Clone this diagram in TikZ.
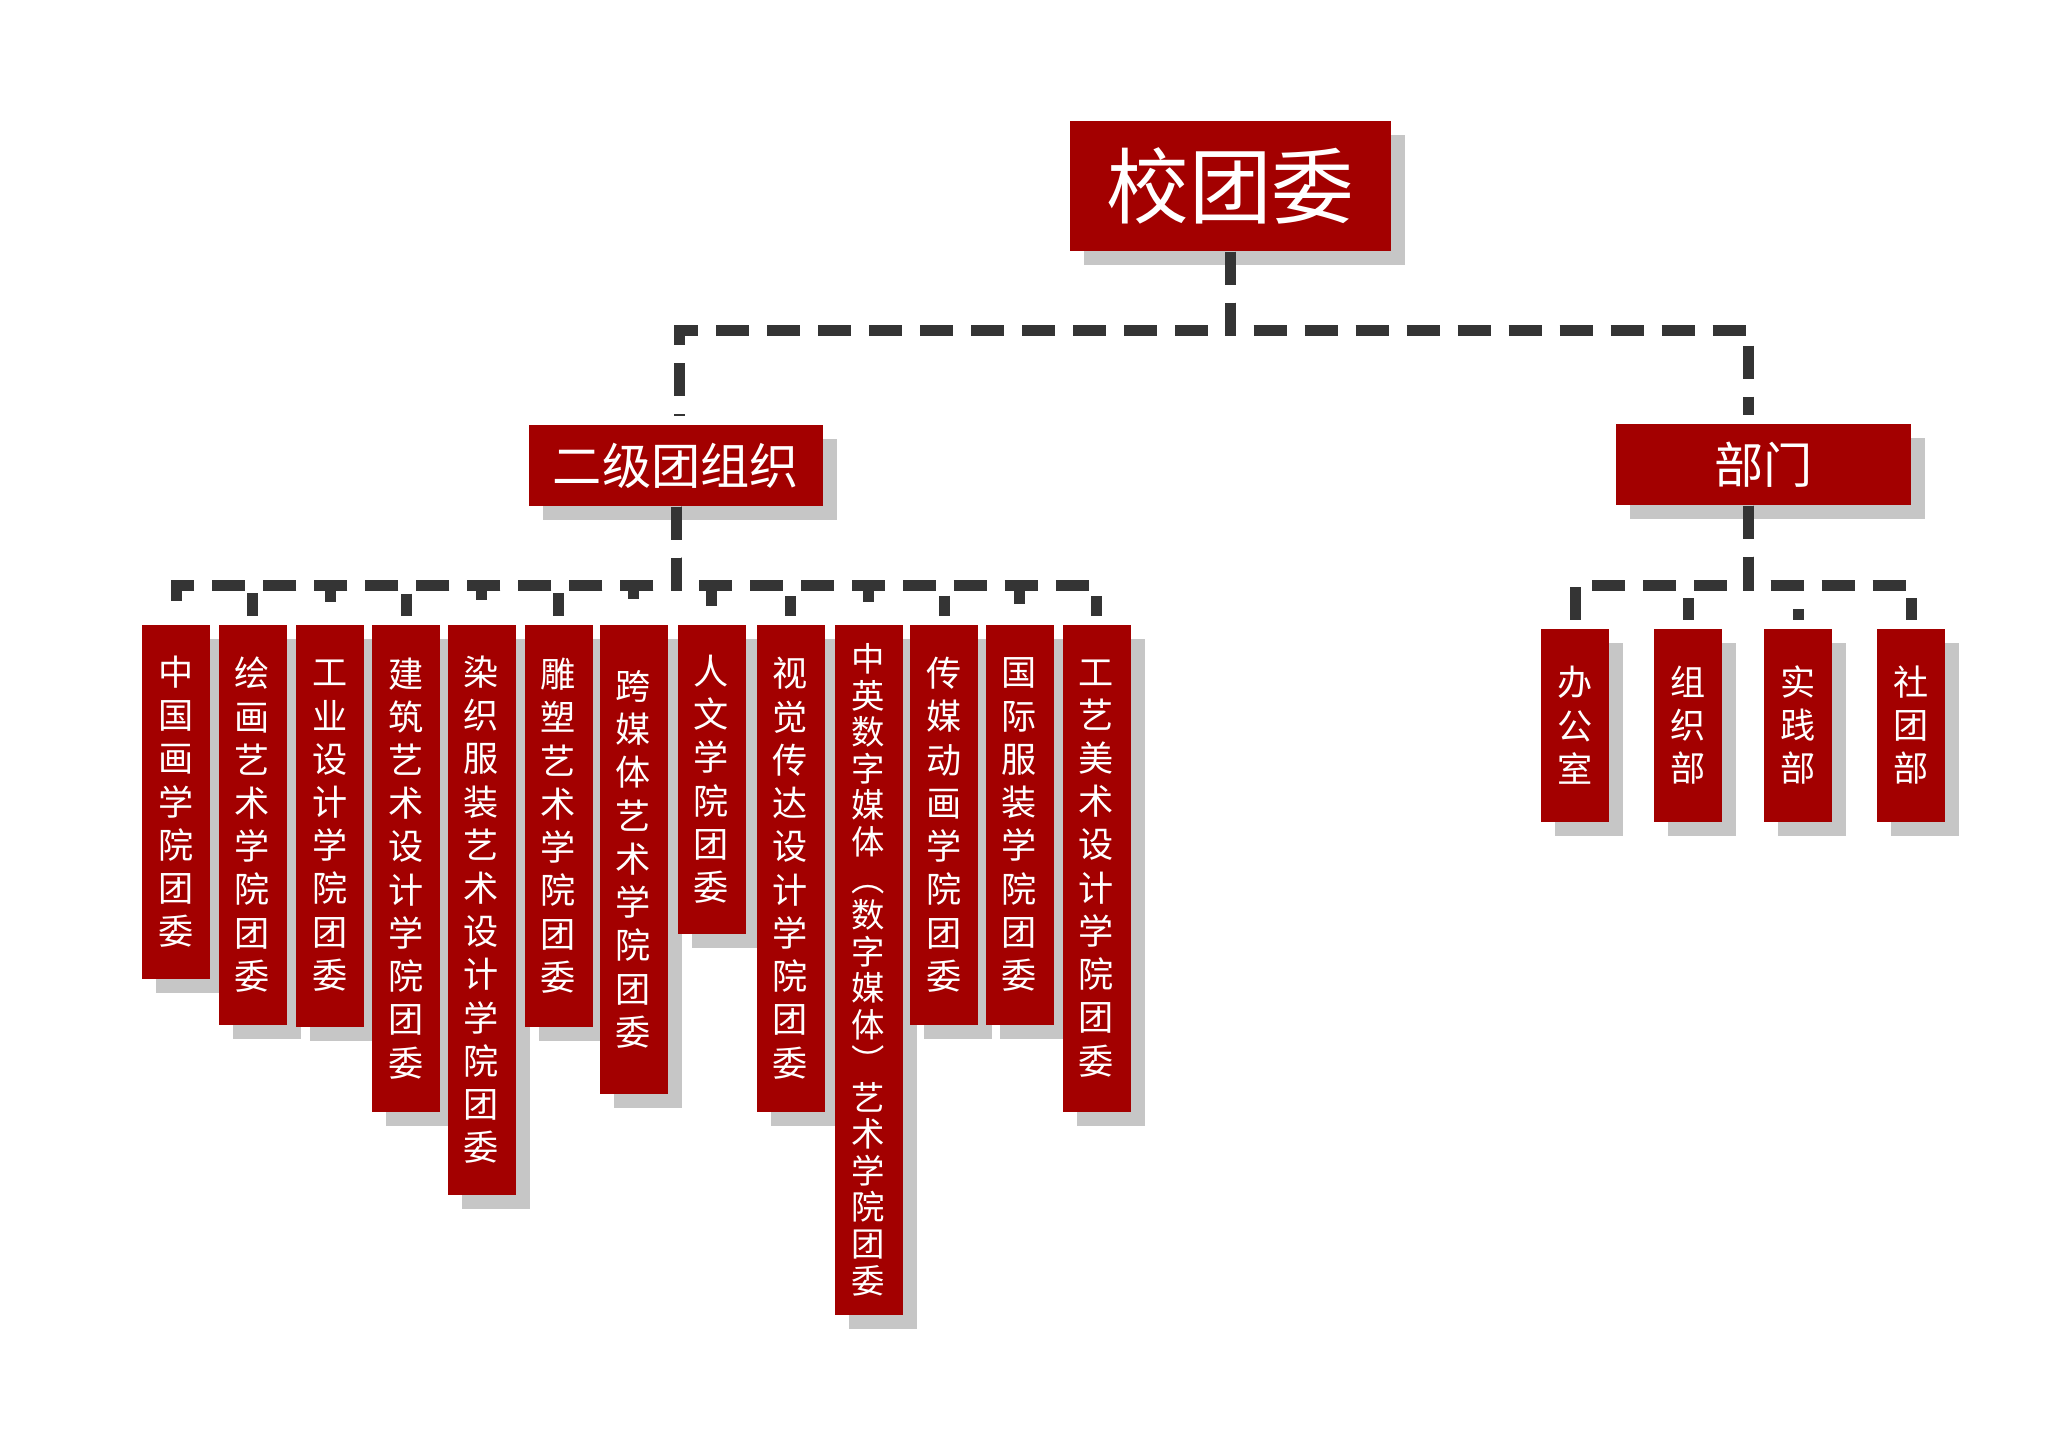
\documentclass[tikz,border=0pt]{standalone}
\usepackage{fontspec}
\newfontfamily\cjk{Noto Sans CJK SC}
\usetikzlibrary{shadows}
\definecolor{boxred}{RGB}{163,0,0}
\definecolor{shadowgray}{RGB}{198,198,198}
\definecolor{linegray}{RGB}{52,52,52}
\tikzset{
  % 红色方框(带阴影)
  box/.style={
    fill=boxred,
    text=white,
    inner sep=0pt,
    align=center,
    font=\cjk,
    drop shadow={shadow xshift=0.14cm, shadow yshift=-0.14cm, fill=shadowgray, opacity=1}
  },
  % 竖排文字方框
  col/.style={box, anchor=north, minimum width=0.68cm,
    font=\cjk\fontsize{10}{12.3}\selectfont},
  % 虚线连接
  conn/.style={draw=linegray, line width=0.11cm,
    dash pattern=on 0.33cm off 0.18cm, shorten >=0.08cm},
}

\begin{document}
\begin{tikzpicture}
    \useasboundingbox (0,0) rectangle (20.48,-14.48);

    % 顶层
    \node[box, minimum width=3.21cm, minimum height=1.30cm,
          font=\cjk\fontsize{23.5}{28}\selectfont] (top) at (12.305,-1.86) {校团委};

    % 第二层
    \node[box, minimum width=2.94cm, minimum height=0.81cm,
          font=\cjk\fontsize{14}{17}\selectfont] (second) at (6.76,-4.655) {二级团组织};
    \node[box, minimum width=2.95cm, minimum height=0.81cm,
          font=\cjk\fontsize{14}{17}\selectfont] (dept) at (17.635,-4.645) {部门};

    % 二级团组织
    \node[col, minimum height=3.54cm] (c1) at (1.76,-6.24) {中\\国\\画\\学\\院\\团\\委};
    \node[col, minimum height=4.00cm] (c2) at (2.525,-6.24) {绘\\画\\艺\\术\\学\\院\\团\\委};
    \node[col, minimum height=4.02cm] (c3) at (3.30,-6.24) {工\\业\\设\\计\\学\\院\\团\\委};
    \node[col, minimum height=4.87cm] (c4) at (4.06,-6.24) {建\\筑\\艺\\术\\设\\计\\学\\院\\团\\委};
    \node[col, minimum height=5.70cm] (c5) at (4.815,-6.24) {染\\织\\服\\装\\艺\\术\\设\\计\\学\\院\\团\\委};
    \node[col, minimum height=4.02cm] (c6) at (5.585,-6.24) {雕\\塑\\艺\\术\\学\\院\\团\\委};
    \node[col, minimum height=4.69cm] (c7) at (6.335,-6.24) {跨\\媒\\体\\艺\\术\\学\\院\\团\\委};
    \node[col, minimum height=3.09cm] (c8) at (7.115,-6.24) {人\\文\\学\\院\\团\\委};
    \node[col, minimum height=4.87cm] (c9) at (7.905,-6.24) {视\\觉\\传\\达\\设\\计\\学\\院\\团\\委};
    \node[col, minimum height=6.90cm, font=\cjk\fontsize{9.5}{10.4}\selectfont] (c10) at (8.685,-6.24)
        {中\\英\\数\\字\\媒\\体\\︵\\数\\字\\媒\\体\\︶\\艺\\术\\学\\院\\团\\委};
    \node[col, minimum height=4.00cm] (c11) at (9.44,-6.24) {传\\媒\\动\\画\\学\\院\\团\\委};
    \node[col, minimum height=4.00cm] (c12) at (10.195,-6.24) {国\\际\\服\\装\\学\\院\\团\\委};
    \node[col, minimum height=4.87cm] (c13) at (10.965,-6.24) {工\\艺\\美\\术\\设\\计\\学\\院\\团\\委};

    % 部门
    \node[col, minimum height=1.93cm] (d1) at (15.75,-6.28) {办\\公\\室};
    \node[col, minimum height=1.93cm] (d2) at (16.88,-6.28) {组\\织\\部};
    \node[col, minimum height=1.93cm] (d3) at (17.98,-6.28) {实\\践\\部};
    \node[col, minimum height=1.93cm] (d4) at (19.11,-6.28) {社\\团\\部};

    % 连线
    \draw[conn] (top.south) -- ++(0,-0.79) -| ([xshift=0.3mm]second.north);
    \draw[conn] (top.south) -- ++(0,-0.79) -| ([xshift=-1.5mm]dept.north);

    \draw[conn] (second.south) -- ++(0,-0.79) -| (c1.north);
    \draw[conn] (second.south) -- ++(0,-0.79) -| (c2.north);
    \draw[conn] (second.south) -- ++(0,-0.79) -| (c3.north);
    \draw[conn] (second.south) -- ++(0,-0.79) -| (c4.north);
    \draw[conn] (second.south) -- ++(0,-0.79) -| (c5.north);
    \draw[conn] (second.south) -- ++(0,-0.79) -| (c6.north);
    \draw[conn] (second.south) -- ++(0,-0.79) -| (c7.north);
    \draw[conn] (second.south) -- ++(0,-0.79) -| (c8.north);
    \draw[conn] (second.south) -- ++(0,-0.79) -| (c9.north);
    \draw[conn] (second.south) -- ++(0,-0.79) -| (c10.north);
    \draw[conn] (second.south) -- ++(0,-0.79) -| (c11.north);
    \draw[conn] (second.south) -- ++(0,-0.79) -| (c12.north);
    \draw[conn] (second.south) -- ++(0,-0.79) -| (c13.north);

    \draw[conn] ([xshift=-1.5mm]dept.south) -- ++(0,-0.80) -| (d1.north);
    \draw[conn] ([xshift=-1.5mm]dept.south) -- ++(0,-0.80) -| (d2.north);
    \draw[conn] ([xshift=-1.5mm]dept.south) -- ++(0,-0.80) -| (d3.north);
    \draw[conn] ([xshift=-1.5mm]dept.south) -- ++(0,-0.80) -| (d4.north);
\end{tikzpicture}
\end{document}
